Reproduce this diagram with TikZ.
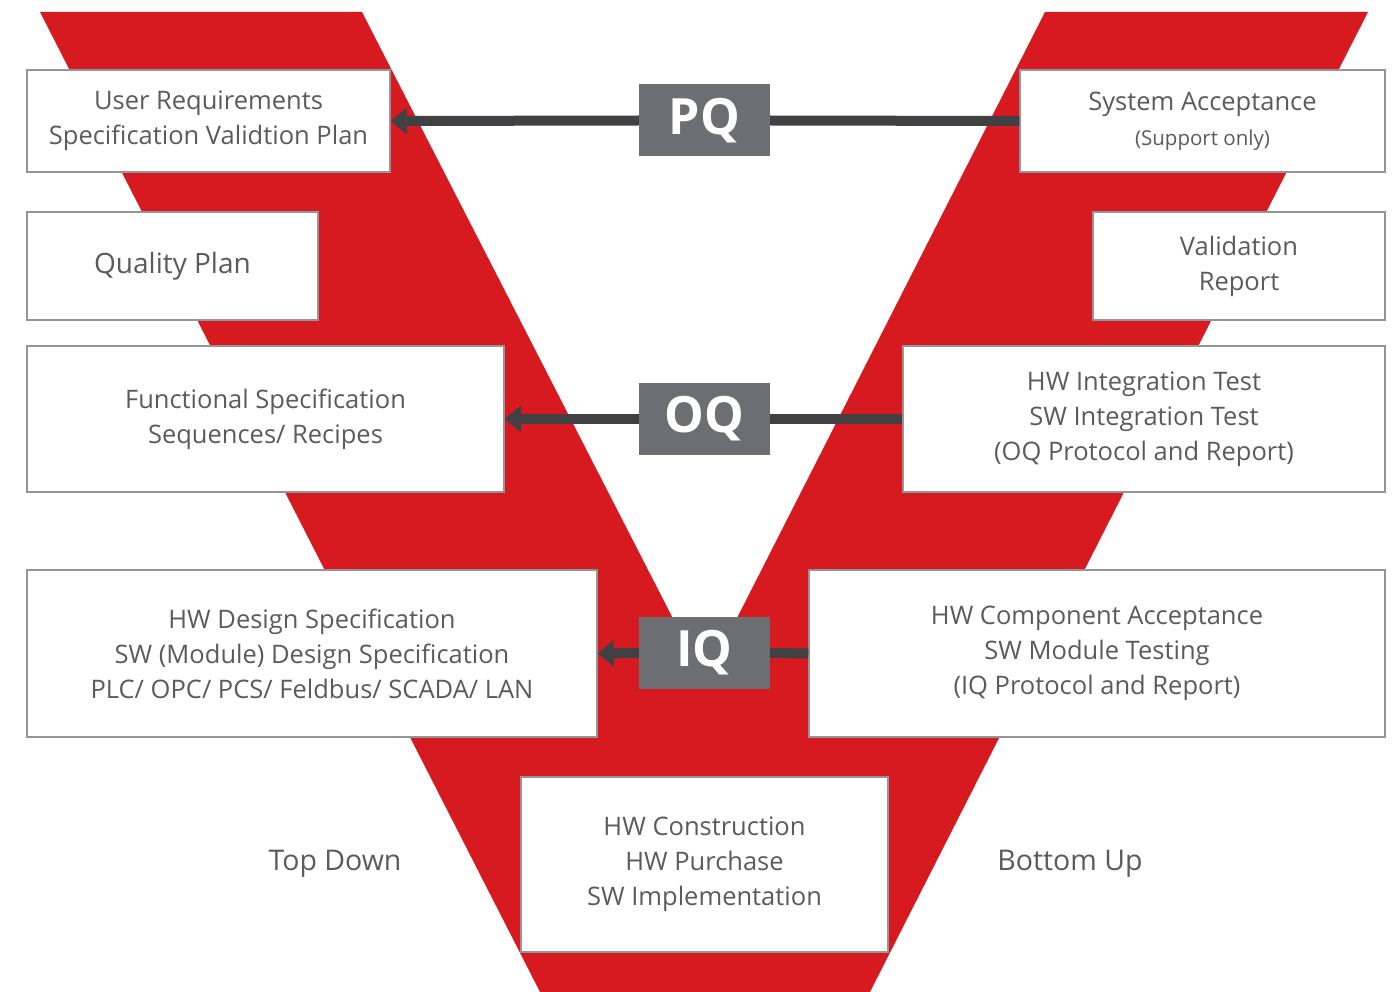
\documentclass[tikz,border=0pt]{standalone}
\usepackage{fontspec}
\setmainfont{Open Sans}
\usepackage{xcolor}
\usepackage{tikz}
\usetikzlibrary{arrows.meta}
\definecolor{vred}{HTML}{D71920}
\definecolor{qgray}{HTML}{6D6E71}
\definecolor{linkgray}{HTML}{414042}
\definecolor{txtgray}{HTML}{5A5B5D}
\definecolor{boxgray}{HTML}{939598}

\begin{document}
\begin{tikzpicture}[x=1pt,y=-1pt,
		docbox/.style={draw=boxgray,fill=white,line width=1.5pt,align=center,text=txtgray,inner sep=0pt,font=\fontsize{25.5}{35}\selectfont},
		qbox/.style={fill=qgray,text=white,inner sep=0pt,minimum width=131pt,minimum height=72pt,font=\fontsize{50}{50}\selectfont\bfseries},
		link/.style={draw=linkgray,line width=10pt},
		linkarrow/.style={link,-{Triangle[length=16pt,width=26pt]}},
		sidelabel/.style={text=txtgray,font=\fontsize{28.5}{30}\selectfont}]
		\useasboundingbox (0,0) rectangle (1400,992);
		
		% the V
		\fill[vred] (40,12) -- (362,12) -- (705,681) -- (1045,12) -- (1368,12) -- (870,992) -- (540,992) -- cycle;
		
		% left side
		\node[docbox,minimum width=363pt,minimum height=102pt] (urs) at (208.5,121) {User Requirements\\Specification Validtion Plan};
		\node[docbox,minimum width=291pt,minimum height=108pt,font=\fontsize{28}{35}\selectfont] (qplan) at (172.5,266) {Quality Plan};
		\node[docbox,minimum width=477pt,minimum height=146pt] (fspec) at (265.5,419) {Functional Specification\\Sequences/ Recipes};
		\node[docbox,minimum width=570pt,minimum height=167pt] (hwdesign) at (312,653.5) {HW Design Specification\\SW (Module) Design Specification\\PLC/ OPC/ PCS/ Feldbus/ SCADA/ LAN};
		
		% right side
		\node[docbox,minimum width=365pt,minimum height=102pt] (sysacc) at (1202.5,121) {System Acceptance\\[0pt]{\fontsize{20.5}{22}\selectfont (Support only)}};
		\node[docbox,minimum width=292pt,minimum height=108pt] (valrep) at (1239,266) {Validation\\Report};
		\node[docbox,minimum width=482pt,minimum height=146pt] (hwint) at (1144,419) {HW Integration Test\\SW Integration Test\\(OQ Protocol and Report)};
		\node[docbox,minimum width=576pt,minimum height=167pt] (hwcomp) at (1097,653.5) {HW Component Acceptance\\SW Module Testing\\(IQ Protocol and Report)};
		
		% bottom
		\node[docbox,minimum width=367pt,minimum height=175pt] (hwconst) at (704.5,864.5) {HW Construction\\HW Purchase\\SW Implementation};
		
		\node[sidelabel] (topdown) at (335,864) {Top Down};
		\node[sidelabel] (bottomup) at (1070,864) {Bottom Up};
		
		% qualification steps
		\node[qbox] (pq) at (704.5,120.5) {PQ};
		\node[qbox] (oq) at (704.5,419) {OQ};
		\node[qbox] (iq) at (704.5,653) {IQ};
		
		\draw[link] (sysacc.west) -- (pq.east);
		\draw[linkarrow] (pq.west) -- (urs.east);
		\draw[link] (hwint.west) -- (oq.east);
		\draw[linkarrow] (oq.west) -- (fspec.east);
		\draw[link] (hwcomp.west) -- (iq.east);
		\draw[linkarrow] (iq.west) -- (hwdesign.east);
	\end{tikzpicture}
\end{document}
